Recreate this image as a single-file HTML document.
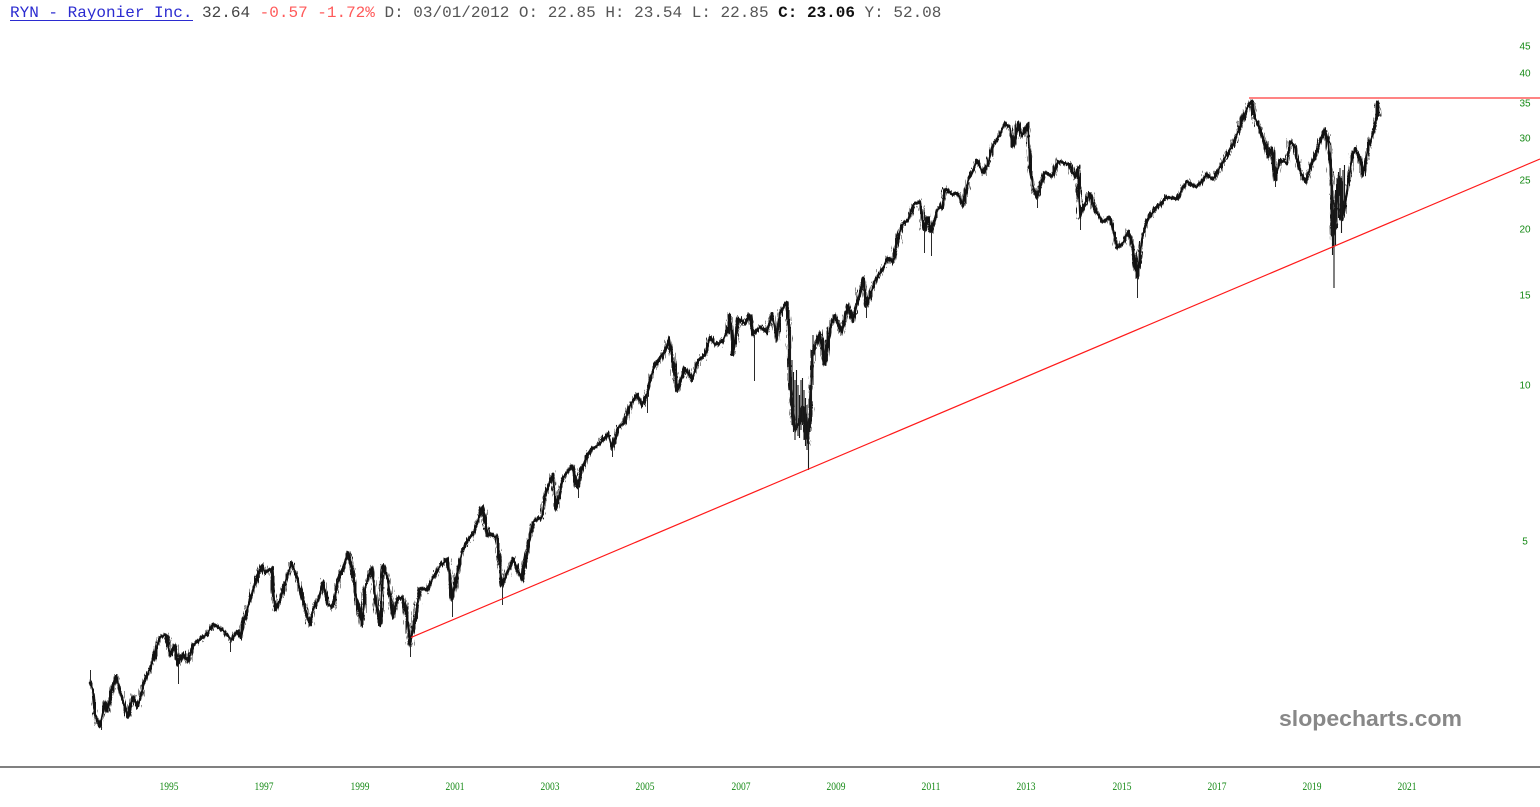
<!DOCTYPE html>
<html>
<head>
<meta charset="utf-8">
<style>
html,body{margin:0;padding:0;background:#fff;}
body{width:1540px;height:807px;overflow:hidden;position:relative;}
svg{position:absolute;left:0;top:0;}
</style>
</head>
<body>
<svg width="1540" height="807" viewBox="0 0 1540 807" xmlns="http://www.w3.org/2000/svg">
  <defs>
    <polyline id="pl" fill="none" stroke-linejoin="round" points="90,682 93,690 95,715 100,726 105,702 107,712 112,690 116,676 120,690 125,708 128,718 133,697 138,706 143,687 148,673 152,663 156,650 160,637 166,635 170,655 175,645 178,665 183,653 188,662 193,645 200,640 207,634 213,624 223,630 227,635 232,640 237,631 240,637 243,622 250,600 255,582 262,565 265,573 272,568 275,610 280,600 283,590 288,573 292,563 297,578 302,597 307,615 310,625 313,610 318,600 323,582 328,605 333,607 338,582 343,567 348,552 352,567 357,602 362,625 365,588 372,567 377,612 380,624 383,565 388,580 393,618 398,598 403,598 407,618 410,645 413,630 420,588 427,590 433,578 440,566 448,559 452,600 455,586 462,552 467,542 473,534 478,520 482,507 488,535 497,537 502,585 507,573 513,558 522,580 527,553 533,522 542,517 545,495 553,474 556,510 563,478 572,465 577,487 582,468 587,455 593,448 600,444 608,433 612,448 618,428 625,422 630,406 637,394 642,406 647,394 653,370 660,358 667,347 669,337 675,375 678,390 685,368 692,380 698,361 705,355 710,337 715,345 722,342 728,330 730,315 733,355 738,318 745,324 750,315 753,335 760,327 767,333 772,313 777,340 780,312 787,302 789,335 790,385 795,430 800,420 803,407 808,443 813,352 820,332 825,365 830,328 835,315 842,333 848,305 853,322 863,278 867,305 875,281 882,270 888,258 893,263 897,241 902,225 908,220 913,205 920,201 924,230 928,217 931,232 937,210 942,207 945,189 952,194 958,194 963,206 968,181 977,161 983,173 988,164 993,145 1000,134 1005,123 1010,128 1013,146 1018,123 1022,136 1025,129 1028,124 1030,168 1033,186 1037,198 1040,187 1045,172 1052,177 1058,161 1065,163 1070,164 1075,178 1078,167 1080,218 1085,203 1090,193 1095,209 1103,222 1110,217 1117,248 1123,243 1128,231 1133,247 1137,277 1142,238 1147,221 1157,207 1167,197 1177,199 1187,181 1197,187 1207,174 1213,180 1220,167 1227,154 1232,147 1237,134 1242,121 1247,108 1252,101 1255,118 1260,128 1265,143 1268,157 1272,148 1275,180 1280,160 1287,163 1290,141 1295,147 1298,166 1305,182 1312,163 1318,148 1325,129 1328,140 1332,185 1333,245 1337,195 1340,178 1342,220 1347,190 1352,158 1355,148 1360,160 1363,176 1368,148 1373,134 1377,114 1378,102 1379,116"/>
    <filter id="jit" filterUnits="userSpaceOnUse" x="0" y="0" width="1540" height="807">
      <feTurbulence type="fractalNoise" baseFrequency="0.55 0.04" numOctaves="2" seed="3" result="n"/>
      <feDisplacementMap in="SourceGraphic" in2="n" scale="7" xChannelSelector="R" yChannelSelector="G"/>
    </filter>
    <filter id="jit2" filterUnits="userSpaceOnUse" x="0" y="0" width="1540" height="807">
      <feTurbulence type="fractalNoise" baseFrequency="0.9 0.06" numOctaves="2" seed="11" result="n"/>
      <feDisplacementMap in="SourceGraphic" in2="n" scale="13" xChannelSelector="R" yChannelSelector="G"/>
    </filter>
  </defs>
  <rect x="0" y="0" width="1540" height="807" fill="#fff"/>
  <!-- header -->
  <text x="10" y="17" font-family="Liberation Mono, monospace" font-size="16" xml:space="preserve"><tspan fill="#2b2bd0">RYN - Rayonier Inc.</tspan><tspan fill="#444"> 32.64 </tspan><tspan fill="#ff5a5a">-0.57 -1.72%</tspan><tspan fill="#555"> D: 03/01/2012 O: 22.85 H: 23.54 L: 22.85 </tspan><tspan fill="#111" font-weight="bold">C: 23.06</tspan><tspan fill="#555"> Y: 52.08</tspan></text>
  <line x1="10" y1="20.5" x2="193" y2="20.5" stroke="#2b2bd0" stroke-width="1"/>

  <!-- y axis labels -->
  <g font-family="Liberation Sans, sans-serif" font-size="10" fill="#168a16" text-anchor="middle">
    <text x="1525" y="49.5">45</text>
    <text x="1525" y="76.5">40</text>
    <text x="1525" y="106.5">35</text>
    <text x="1525" y="141.5">30</text>
    <text x="1525" y="183.5">25</text>
    <text x="1525" y="232.5">20</text>
    <text x="1525" y="298.5">15</text>
    <text x="1525" y="388.5">10</text>
    <text x="1525" y="544.5">5</text>
  </g>

  <!-- x axis -->
  <rect x="0" y="766" width="1540" height="2" fill="#808080"/>
  <g font-family="Liberation Serif, serif" font-size="12" fill="#168a16" text-anchor="middle">
    <text x="169" y="790" textLength="19" lengthAdjust="spacingAndGlyphs">1995</text>
    <text x="264" y="790" textLength="19" lengthAdjust="spacingAndGlyphs">1997</text>
    <text x="360" y="790" textLength="19" lengthAdjust="spacingAndGlyphs">1999</text>
    <text x="455" y="790" textLength="19" lengthAdjust="spacingAndGlyphs">2001</text>
    <text x="550" y="790" textLength="19" lengthAdjust="spacingAndGlyphs">2003</text>
    <text x="645" y="790" textLength="19" lengthAdjust="spacingAndGlyphs">2005</text>
    <text x="741" y="790" textLength="19" lengthAdjust="spacingAndGlyphs">2007</text>
    <text x="836" y="790" textLength="19" lengthAdjust="spacingAndGlyphs">2009</text>
    <text x="931" y="790" textLength="19" lengthAdjust="spacingAndGlyphs">2011</text>
    <text x="1026" y="790" textLength="19" lengthAdjust="spacingAndGlyphs">2013</text>
    <text x="1122" y="790" textLength="19" lengthAdjust="spacingAndGlyphs">2015</text>
    <text x="1217" y="790" textLength="19" lengthAdjust="spacingAndGlyphs">2017</text>
    <text x="1312" y="790" textLength="19" lengthAdjust="spacingAndGlyphs">2019</text>
    <text x="1407" y="790" textLength="19" lengthAdjust="spacingAndGlyphs">2021</text>
  </g>

  <!-- watermark -->
  <text x="1279" y="726" font-family="Liberation Sans, Arial, sans-serif" font-weight="bold" font-size="22" fill="#888" textLength="183" lengthAdjust="spacingAndGlyphs">slopecharts.com</text>

  <!-- price series -->
  <use href="#pl" stroke="#1c1c1c" stroke-width="1.2" filter="url(#jit2)"/>
  <use href="#pl" stroke="#151515" stroke-width="3" filter="url(#jit)"/>
  <use href="#pl" stroke="#111" stroke-width="1.6"/>
  <!-- crash block bars -->
  <path fill="none" stroke="#1a1a1a" stroke-width="1.1" d="M789 310V390M790.5 330V405M792 360V425M793.5 372V432M795 380V440M796.5 370V430M798 385V436M799.5 395V438M801 380V430M802.5 378V425M804 390V440M805.5 398V446M807 405V450M808.5 420V470M810 385V432M811.5 350V410M813 335V385M1331 170V235M1332.5 185V255M1334 200V288M1335.5 190V245M1337 178V228M1338.5 172V218M1340 168V212M1341.5 178V233M1343 170V215M1344.5 165V205"/>
  <!-- long wicks -->
  <path fill="none" stroke="#2a2a2a" stroke-width="1" d="M90.5 682V670M101.5 726V730M178.5 665V684M230.5 638V652M410.5 645V657M452.5 600V617M502.5 585V605M578.5 487V498M612.5 448V457M647.5 394V413M754.5 335V381M866.5 305V318M924.5 230V253M931.5 232V256M1037.5 198V208M1080.5 218V230M1137.5 277V298M1275.5 180V187"/>

  <!-- trend lines -->
  <line x1="411" y1="637.5" x2="1540" y2="159" stroke="#ff1a1a" stroke-width="1.2"/>
  <line x1="1249" y1="98" x2="1540" y2="98" stroke="#ff5c5c" stroke-width="1.5"/>
</svg>
</body>
</html>
